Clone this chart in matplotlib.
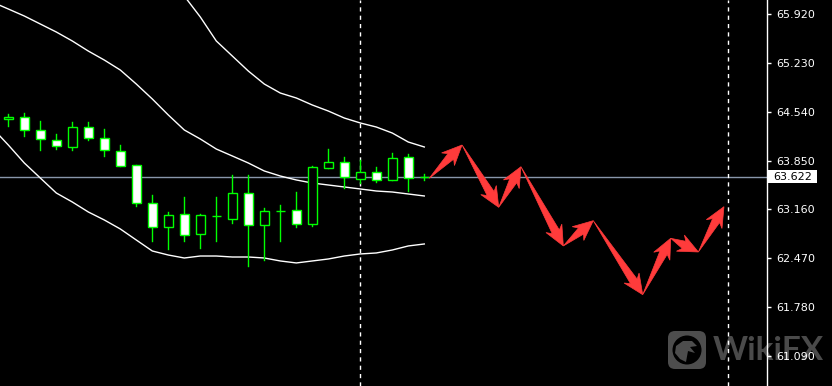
import numpy as np
import matplotlib
matplotlib.use("Agg")
from matplotlib import pyplot as plt
from matplotlib.patches import Rectangle, Polygon, FancyBboxPatch, Circle
from matplotlib.transforms import IdentityTransform

# --- data --------------------------------------------------------------------
opens = [64.433, 64.461, 64.278, 64.136, 64.046, 64.320, 64.165, 63.981, 63.783,
         63.247, 62.908, 63.091, 62.806, 63.063, 63.029, 63.388, 62.936, 63.142,
         63.148, 62.950, 63.741, 63.826, 63.586, 63.684, 63.571, 63.896, 63.611]
closes = [64.461, 64.278, 64.150, 64.052, 64.320, 64.165, 63.995, 63.769, 63.247,
          62.908, 63.077, 62.795, 63.079, 63.071, 63.388, 62.936, 63.138, 63.142,
          62.950, 63.755, 63.826, 63.614, 63.684, 63.571, 63.882, 63.600, 63.622]
highs = [64.504, 64.518, 64.409, 64.225, 64.391, 64.391, 64.292, 64.066, 63.783,
         63.360, 63.120, 63.331, 63.091, 63.331, 63.646, 63.646, 63.176, 63.223,
         63.406, 63.773, 64.013, 63.900, 63.854, 63.759, 63.957, 63.939, 63.660]
lows = [64.343, 64.201, 64.004, 64.013, 64.004, 64.145, 63.919, 63.769, 63.209,
        62.718, 62.605, 62.718, 62.622, 62.718, 62.973, 62.365, 62.450, 62.718,
        62.916, 62.930, 63.741, 63.458, 63.529, 63.547, 63.571, 63.425, 63.571]

band_x = list(range(-1, 27))
band_mid = [66.089, 65.991, 65.892, 65.779, 65.666, 65.539, 65.397, 65.270, 65.129,
            64.931, 64.720, 64.494, 64.282, 64.155, 64.013, 63.915, 63.816, 63.703,
            63.632, 63.576, 63.533, 63.505, 63.477, 63.449, 63.420, 63.406, 63.378,
            63.350]
band_low = [64.310, 64.070, 63.816, 63.604, 63.392, 63.265, 63.124, 63.011, 62.884,
            62.728, 62.573, 62.516, 62.474, 62.502, 62.502, 62.488, 62.488, 62.474,
            62.432, 62.404, 62.432, 62.460, 62.502, 62.531, 62.545, 62.587, 62.644,
            62.672]
band_up = [np.nan] * 9 + [67.135, 66.866, 66.471, 66.174, 65.878, 65.539, 65.327,
                          65.115, 64.931, 64.804, 64.734, 64.635, 64.550, 64.451,
                          64.381, 64.324, 64.239, 64.112, 64.042]

# forecast zigzag (bar index, price)
fc_x = [26.31, 28.36, 30.65, 32.04, 34.69, 36.56, 39.65, 41.40, 43.13, 44.73]
fc_y = [63.600, 64.070, 63.190, 63.763, 62.644, 63.001, 61.956, 62.752, 62.559, 63.199]

price_ticks = [65.920, 65.230, 64.540, 63.850, 63.160, 62.470, 61.780, 61.090]
last_price = 63.622
sep_bars = [22, 45]

GREEN = "#00ff00"
RED = "#ff3b3b"

fig = plt.figure(figsize=(8.32, 3.86), dpi=100, facecolor="black")
ax = fig.add_axes([0, 0, 766.7 / 832, 1])
ax.set_facecolor("none")
ax.set_xlim(-0.519, 47.4)
ax.set_ylim(60.666, 66.118)

ax.axhline(last_price, color="#8896aa", lw=1, zorder=1)
for xb in sep_bars:
    ax.axvline(xb, color="white", lw=1, ls=(0, (3, 3)), zorder=1)

ax.plot(band_x, band_mid, color="white", lw=1, zorder=1.5)
ax.plot(band_x, band_low, color="white", lw=1, zorder=1.5)
ax.plot(band_x, band_up, color="white", lw=1, zorder=1.5)

w = 0.6
for i, (o, h, l, c) in enumerate(zip(opens, highs, lows, closes)):
    ax.plot([i, i], [l, h], color=GREEN, lw=1, zorder=2)
    face = "white" if c < o else "black"
    ax.add_patch(Rectangle((i - w / 2, min(o, c)), w, abs(c - o), facecolor=face,
                           edgecolor=GREEN, lw=1, zorder=2.5))

# tapered arrows along the forecast path, built in pixel space
pts = ax.transData.transform(np.column_stack([fc_x, fc_y]))
inv = ax.transData.inverted()
for p0, p1 in zip(pts[:-1], pts[1:]):
    d = p1 - p0
    L = np.hypot(*d)
    u = d / L
    n = np.array([-u[1], u[0]])
    b = L - 16
    poly = [p0, p0 + u * b + n * 4.0, p0 + u * (b - 4) + n * 9, p1,
            p0 + u * (b - 4) - n * 9, p0 + u * b - n * 4.0]
    ax.add_patch(Polygon(inv.transform(np.array(poly)), closed=True,
                         facecolor=RED, edgecolor=RED, lw=0.5, zorder=3))

for s in ["top", "left", "bottom"]:
    ax.spines[s].set_visible(False)
ax.spines["right"].set_color("white")
ax.spines["right"].set_linewidth(1)
ax.set_xticks([])
ax.yaxis.tick_right()
ax.set_yticks(price_ticks)
ax.set_yticklabels([f"{v:.3f}" for v in price_ticks])
ax.tick_params(axis="y", colors="white", length=3, width=1, pad=4, labelsize=8)

# current price tag
yp = ax.transData.transform((0, last_price))[1]
fig.add_artist(Rectangle((768, yp - 6.5), 49, 13, transform=IdentityTransform(),
                         facecolor="white", edgecolor="none", zorder=5))
fig.text(773, yp, f"{last_price:.3f}", transform=IdentityTransform(), color="black",
         fontsize=8, va="center", ha="left", zorder=6)

# watermark
cx, cy = 687, 36
fig.add_artist(FancyBboxPatch((668, 17), 38, 38, boxstyle="round,pad=0,rounding_size=7",
                              transform=IdentityTransform(), facecolor="#4d4d4d",
                              edgecolor="none", zorder=-2))
fig.add_artist(Circle((cx, cy), 14.5, transform=IdentityTransform(), facecolor="black",
                      edgecolor="none", zorder=-1.5))
eagle = np.array([(-11, 4), (-4, 9), (5, 9), (10, 4), (3, 3), (8, -3), (1, -1),
                  (-1, -12), (-7, -9), (-12, -3)]) + [cx, cy]
fig.add_artist(Polygon(eagle, closed=True, transform=IdentityTransform(),
                       facecolor="#4d4d4d", edgecolor="none", zorder=-1))
fig.text(713, 36, "WikiFX", transform=IdentityTransform(), color="#4a4a4a",
         fontsize=24, fontweight="bold", family="Lato", va="center", ha="left",
         zorder=-1)

fig.savefig("out.png", dpi=100, facecolor="black")
